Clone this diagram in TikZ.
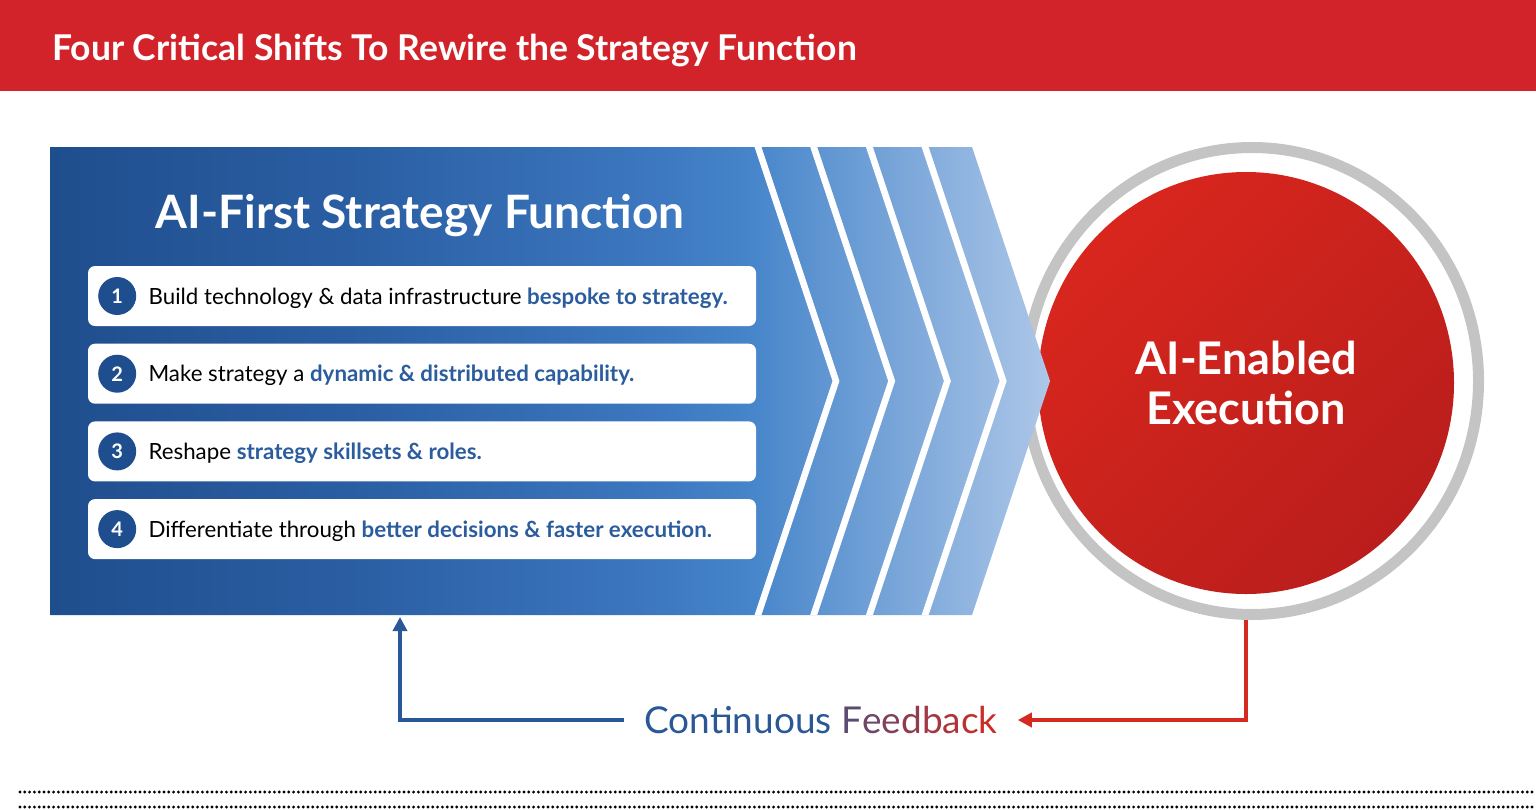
\documentclass[tikz,border=0pt]{standalone}
\usepackage{fontspec}
\setmainfont{Lato}
\usepackage{xcolor}
\usetikzlibrary{shapes, positioning, calc, arrows.meta}

\definecolor{titlered}{HTML}{D2232A}
\definecolor{numblue}{HTML}{1F4E8F}
\definecolor{accentblue}{HTML}{2B5C9E}
\definecolor{ringgray}{HTML}{C4C4C4}
\definecolor{execlight}{HTML}{D8261D}
\definecolor{execdark}{HTML}{BA1E1C}
\definecolor{feedblue}{HTML}{2A5896}
\definecolor{feedred}{HTML}{D42A1F}
\definecolor{dotgray}{HTML}{000000}
\definecolor{chevA}{HTML}{1F4E8D}
\definecolor{chevB}{HTML}{2A5EA3}
\definecolor{chevC}{HTML}{3C77BF}
\definecolor{chevD}{HTML}{4685CA}
\definecolor{chevE}{HTML}{ADC7E8}

% horizontal shading of the arrow body, path spans 25bp to 75bp
\pgfdeclarehorizontalshading{chevronshade}{100bp}{color(0bp)=(chevA); color(25bp)=(chevA); color(40bp)=(chevB); color(55bp)=(chevC); color(60bp)=(chevD); color(75bp)=(chevE); color(100bp)=(chevE)}

\begin{document}
\begin{tikzpicture}[
    x = 1pt, y = -1pt,
    > = {Triangle[length = 14pt, width = 14pt]},
    rowbox/.style = {rectangle, fill = white, rounded corners = 7pt, minimum width = 668pt, minimum height = 60pt, inner sep = 0pt, outer sep = 0pt},
    number/.style = {circle, fill = numblue, text = white, font = \bfseries\fontsize{20}{20}\selectfont, minimum size = 38pt, inner sep = 0pt},
    rowtext/.style = {anchor = west, inner sep = 0pt, text height = 16pt, text depth = 0pt, font = \fontsize{22.3}{22.3}\selectfont},
    stripe/.style = {draw = white, line width = 6.6pt, miter limit = 10},
    feed/.style = {line width = 4pt, ->},
    dotrow/.style = {draw = dotgray, line width = 3.2pt, line cap = round, dash pattern = on 0pt off 4.8pt},
    ]

    \useasboundingbox (0,0) rectangle (1536,809);

    % title bar
    \fill [titlered] (0,0) rectangle (1536,91);
    \node [anchor = west, text = white, inner sep = 0pt, text height = 25pt, text depth = 0pt, font = \bfseries\fontsize{35.5}{35.5}\selectfont] (title) at (52,48) {Four Critical Shifts To Rewire the Strategy Function};

    % execution circle with its ring
    \node [ellipse, draw = ringgray, line width = 11pt, minimum width = 453pt, minimum height = 467pt, inner sep = 0pt] (ring) at (1252,381) {};
    \node [ellipse, top color = execlight, bottom color = execdark, shading angle = 45, minimum width = 416pt, minimum height = 422pt, inner sep = 0pt, text = white, align = center, font = \bfseries\fontsize{45}{50}\selectfont] (exec) at (1246,383) {AI-Enabled\\Execution};

    % arrow body and chevron stripes
    \shade [shading = chevronshade] (50,147) -- (972,147) -- (1050,381) -- (972,615) -- (50,615) -- cycle;
    \begin{scope}
        \clip (50,147) -- (972,147) -- (1050,381) -- (972,615) -- (50,615) -- cycle;
        \foreach \x in {758, 813.7, 869.4, 925.1}
            \draw [stripe] ({\x-6},129) -- ({\x+78},381) -- ({\x-6},633);
    \end{scope}

    \node [text = white, inner sep = 0pt, text height = 33pt, text depth = 0pt, font = \bfseries\fontsize{46}{46}\selectfont] (heading) at (420,212) {AI-First Strategy Function};

    % the four shifts
    \node [rowbox] (b1) at (422,296) {};
    \node [rowbox] (b2) [below = 17.7pt of b1] {};
    \node [rowbox] (b3) [below = 17.7pt of b2] {};
    \node [rowbox] (b4) [below = 17.7pt of b3] {};

    \node [number] (n1) [right = 10pt of b1.west] {1};
    \node [number] (n2) [right = 10pt of b2.west] {2};
    \node [number] (n3) [right = 10pt of b3.west] {3};
    \node [number] (n4) [right = 10pt of b4.west] {4};

    \node [rowtext] (t1) [right = 12pt of n1] {Build technology \& data infrastructure \textcolor{accentblue}{\bfseries bespoke to strategy.}};
    \node [rowtext] (t2) [right = 12pt of n2] {Make strategy a \textcolor{accentblue}{\bfseries dynamic \& distributed capability.}};
    \node [rowtext] (t3) [right = 12pt of n3] {Reshape \textcolor{accentblue}{\bfseries strategy skillsets \& roles.}};
    \node [rowtext] (t4) [right = 12pt of n4] {Differentiate through \textcolor{accentblue}{\bfseries better decisions \& faster execution.}};

    % feedback loop
    \node [inner xsep = 20pt, inner ysep = 0pt, text height = 27pt, text depth = 0pt, font = \fontsize{37}{37}\selectfont] (fb) at (821,720) {\textcolor{feedblue}{Continuous} \textcolor{feedred!30!feedblue}{F}\textcolor{feedred!40!feedblue}{e}\textcolor{feedred!50!feedblue}{e}\textcolor{feedred!60!feedblue}{d}\textcolor{feedred!70!feedblue}{b}\textcolor{feedred!78!feedblue}{a}\textcolor{feedred!86!feedblue}{c}\textcolor{feedred!94!feedblue}{k}};
    \coordinate (fbin) at (400,617);
    \draw [feed, draw = feedblue] (fb.west) -| (fbin);
    \draw [feed, draw = feedred] (exec.center |- ring.south) |- (fb.east);

    % dotted rules at the foot
    \draw [dotrow] (20,792) -- (1536,792);
    \draw [dotrow] (20,807) -- (1536,807);
\end{tikzpicture}
\end{document}
